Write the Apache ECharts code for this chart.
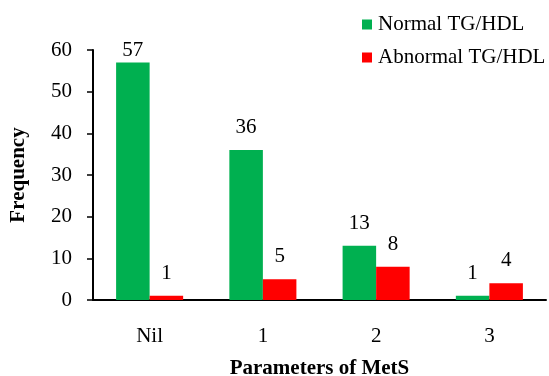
<!DOCTYPE html>
<html>
<head>
<meta charset="utf-8">
<script src="https://cdn.jsdelivr.net/npm/echarts@6/dist/echarts.min.js"></script>
<style>
  html, body { margin: 0; padding: 0; background: #fff; }
  #chart { width: 549px; height: 376px; }
</style>
</head>
<body>
<div id="chart"></div>
<script>
// MetS parameter groups and frequency counts per TG/HDL status
const categories = ['Nil', '1', '2', '3'];
const normalTGHDL = [57, 36, 13, 1];
const abnormalTGHDL = [1, 5, 8, 4];
const yTicks = { min: 0, max: 60, interval: 10 };

const FONT = '"Liberation Serif", "Times New Roman", serif';
const FS = 21;

const chart = echarts.init(document.getElementById('chart'));

// Value labels sit above each bar; a bar reaching near the axis top keeps
// its label tucked closer so it stays inside the plot.
function withLabels(values) {
  return values.map(v => ({
    value: v,
    label: { distance: v > yTicks.max - 5 ? 2 : 12 }
  }));
}

const labelStyle = {
  show: true,
  position: 'top',
  fontFamily: FONT,
  fontSize: FS,
  color: '#000'
};

chart.setOption({
  animation: false,
  textStyle: { fontFamily: FONT },
  grid: { left: 93, right: 3, top: 50, bottom: 76, outerBoundsMode: 'none', containLabel: false },
  legend: {
    orient: 'vertical',
    left: 357,
    top: 9,
    itemWidth: 10,
    itemHeight: 10,
    itemGap: 12,
    icon: 'rect',
    textStyle: { fontFamily: FONT, fontSize: FS, color: '#000', padding: [0, 0, 0, 1] },
    data: ['Normal TG/HDL', 'Abnormal TG/HDL']
  },
  xAxis: {
    type: 'category',
    data: categories,
    name: 'Parameters of MetS',
    nameLocation: 'middle',
    nameGap: 58,
    nameTextStyle: { fontFamily: FONT, fontSize: FS, fontWeight: 'bold', color: '#000' },
    axisLine: { lineStyle: { color: '#000', width: 2 } },
    axisTick: { show: false },
    axisLabel: { fontFamily: FONT, fontSize: FS, color: '#000', margin: 26 }
  },
  yAxis: {
    type: 'value',
    min: yTicks.min,
    max: yTicks.max,
    interval: yTicks.interval,
    name: 'Frequency',
    nameLocation: 'middle',
    nameGap: 64,
    nameTextStyle: { fontFamily: FONT, fontSize: FS, fontWeight: 'bold', color: '#000' },
    axisLine: { show: true, lineStyle: { color: '#000', width: 2 } },
    axisTick: { show: true, length: 6, lineStyle: { color: '#000', width: 1.5 } },
    axisLabel: { fontFamily: FONT, fontSize: FS, color: '#000', margin: 21 },
    splitLine: { show: false }
  },
  series: [
    {
      name: 'Normal TG/HDL',
      type: 'bar',
      data: withLabels(normalTGHDL),
      barWidth: '29.6%',
      barGap: '0%',
      itemStyle: { color: '#00B050' },
      label: labelStyle
    },
    {
      name: 'Abnormal TG/HDL',
      type: 'bar',
      data: withLabels(abnormalTGHDL),
      barWidth: '29.6%',
      itemStyle: { color: '#FF0000' },
      label: labelStyle
    }
  ]
});
</script>
</body>
</html>
